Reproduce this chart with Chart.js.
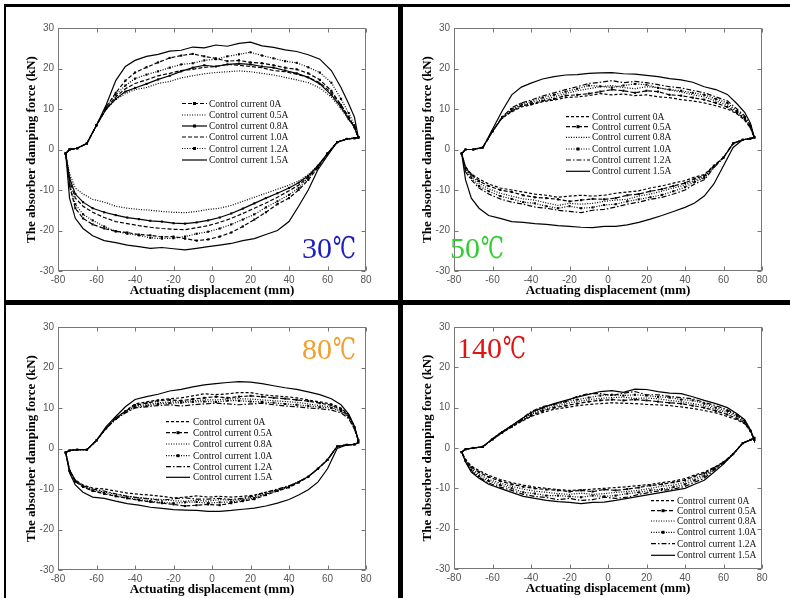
<!DOCTYPE html>
<html><head><meta charset="utf-8">
<script src="https://cdn.jsdelivr.net/npm/chart.js@4.4.1/dist/chart.umd.min.js"></script>
<style>
html,body{margin:0;padding:0;background:#fff;}
#wrap{position:relative;width:790px;height:598px;overflow:hidden;background:#fff;}
canvas{position:absolute;}
.bar{position:absolute;background:#000;}
</style></head><body>
<div id="wrap">
<canvas id="c1" width="400" height="300" style="left:0;top:0"></canvas>
<canvas id="c2" width="390" height="300" style="left:400px;top:0"></canvas>
<canvas id="c3" width="400" height="298" style="left:0;top:300px"></canvas>
<canvas id="c4" width="390" height="298" style="left:400px;top:300px"></canvas>
<div class="bar" style="left:4px;top:4px;width:786px;height:3px"></div>
<div class="bar" style="left:4px;top:4px;width:2px;height:594px"></div>
<div class="bar" style="left:398px;top:4px;width:5px;height:594px"></div>
<div class="bar" style="left:4px;top:300px;width:786px;height:5px"></div>
</div>
<script>
// x positions of the upper branch (left to right) and lower branch (right to left), mm
const UX = [-76,-74,-70,-65,-60,-55,-50,-45,-40,-34,-28,-22,-16,-10,-4,2,8,14,20,26,32,38,44,50,56,62,67,71,74,76];
const LX = [76,74,70,65,60,55,50,45,40,34,28,22,16,10,4,-2,-8,-14,-20,-26,-32,-38,-44,-50,-56,-62,-67,-71,-74,-76];
const LEGEND = ['Control current 0A','Control current 0.5A','Control current 0.8A','Control current 1.0A','Control current 1.2A','Control current 1.5A'];
const X_TICKS = [-80,-60,-40,-20,0,20,40,60,80];
const Y_TICKS = [-30,-20,-10,0,10,20,30];

// ---- 30 C ----
const up30_00 = [-1,0,0.3,1.5,6,10.5,14,17,19,20.3,21.5,22.6,23.2,23.6,23,22.5,21.8,22,21.5,21.3,20.8,20.2,19.8,18.8,17.2,14.5,11,8,5.5,3];
const up30_05 = [-1,0,0.3,1.5,6,10,12.3,13.8,14.8,15.3,16.3,16.8,17.7,18.2,18.7,19,19.2,19.4,19.2,18.8,18.4,17.8,17.2,16.5,15.2,13,10,7.5,5.5,3];
const up30_08 = [-1,0,0.3,1.5,6,10,12.5,14.3,15.2,16.2,17.3,18.2,19.3,20.2,20.8,20.5,21,21.2,21,20.5,20.2,19.5,18.8,17.8,16.2,13.5,10.5,7.5,5.5,3];
const up30_10 = [-1,0,0.3,1.5,6,10,13,15,16.3,17.2,18.2,18.8,19.5,19.8,20.3,20.5,21,20.8,20.5,20.2,19.5,19.2,18.6,17.8,16.5,14,11,8,5.5,3];
const up30_12 = [-1,0,0.3,1.5,6,10.3,13.5,15.8,17.5,18.5,19.3,20.2,21,21.3,22,22.3,23,23.5,24,23.2,22.5,21.8,21.4,20.3,19,16.5,12.5,9,6,3];
const up30_15 = [-1,0,0.3,1.5,6,11,17,20.5,22,23,23.5,24.3,24.5,25.3,25.1,25.8,25.5,26.2,26.5,25.6,25.2,24.6,24.2,23.4,22.3,19.5,15.3,11.3,8,3];
const lo30_00 = [3,2.8,2.6,1.8,-1,-4.5,-7.5,-10,-12,-13.5,-15.5,-17.3,-19,-20.5,-21.5,-22.2,-22.5,-22,-21.5,-21.6,-21.2,-21,-20.5,-20.2,-19.5,-18.5,-17,-14.5,-9,-1];
const lo30_05 = [3,2.8,2.6,1.8,-1,-4,-6.2,-7.8,-8.8,-9.8,-10.8,-11.8,-12.8,-13.8,-14.5,-14.8,-15.3,-15.6,-15.5,-15.3,-15,-14.8,-14.5,-14,-13,-12.3,-11,-9.5,-6,-1];
const lo30_08 = [3,2.8,2.6,1.8,-1,-4,-6.5,-8.2,-9.5,-10.8,-12,-13.3,-14.6,-15.8,-16.8,-17.5,-18,-18.3,-18.2,-17.8,-17.6,-17.2,-16.8,-16.2,-15.5,-14.5,-13,-11,-7,-1];
const lo30_10 = [3,2.8,2.6,1.8,-1,-4.2,-6.8,-8.8,-10.2,-11.8,-13.2,-14.5,-15.8,-17,-18,-18.8,-19.3,-19.8,-19.7,-19.5,-19.2,-18.8,-18.3,-17.8,-16.8,-15.5,-14,-12,-7.5,-1];
const lo30_12 = [3,2.8,2.6,1.8,-1,-4.3,-7,-9.5,-11.2,-12.8,-14.3,-16,-17.3,-18.5,-19.5,-20.3,-20.8,-21.5,-21.9,-22,-21.8,-21.2,-20.8,-20.2,-19,-17.5,-16,-13.5,-8.5,-1];
const lo30_15 = [3,2.8,2.6,1.8,-1.5,-5,-10,-14,-17.8,-20,-21,-22,-22.5,-23.2,-23.6,-24,-24.4,-24.8,-24.5,-24.2,-24.4,-24,-23.6,-23,-22.5,-21.3,-19.5,-17,-12,-1];

// ---- 50 C ----
const up50_00 = [-1,0,0,0.5,4.5,7.8,9.3,10.5,11,11.8,12.2,12.8,13,13.3,13.8,13.5,13.7,13.3,13.5,13,12.8,12.3,12,11.5,10.8,10,8.8,7.2,5.3,3];
const up50_05 = [-1,0,0,0.5,4.5,7.8,9.5,10.8,11.2,12,12.5,13.3,13.5,13.8,14.3,14.8,14.5,14,14.5,14.3,13.5,13.3,12.8,12.3,11.5,10.5,9,7.5,5.5,3];
const up50_08 = [-1,0,0,0.5,4.5,7.8,9.8,11,11.5,12.3,13,13.8,14.5,15,15.5,15.8,15.3,15,15.5,15.3,14.7,14.2,13.5,13,12,11,9.3,7.7,5.5,3];
const up50_10 = [-1,0,0,0.5,4.5,8,10,11.3,11.8,12.8,13.5,14.3,15,15.8,15.6,15.3,15.8,16.2,16,15.2,14.8,14.5,14,13.5,12.5,11.5,9.5,8,5.8,3];
const up50_12 = [-1,0,0,0.5,4.5,8,10.3,11.5,12.2,13.2,14,14.8,15.5,16.3,16.6,17,16.5,16.8,16.5,16,15.5,15.2,14.6,14,13,12,10,8.3,6,3];
const up50_15 = [-1,0,0,0.5,5,9.5,13.5,15.4,16.4,17.4,18,18.4,18.5,18.8,18.9,19,18.7,18.6,18.3,18,17.5,17.2,16.6,15.5,14.8,13.6,11.3,9.2,6.5,3];
const lo50_00 = [3,2.7,2.4,1.5,-2,-4,-6.2,-6.8,-7.7,-8.3,-9,-9.5,-10.2,-10.5,-10.8,-11.3,-11.5,-11.3,-11.5,-11.8,-11.3,-11,-10.5,-10,-9.5,-8.5,-7.3,-6,-4.3,-1];
const lo50_05 = [3,2.7,2.4,1.5,-2,-4,-6.5,-7.2,-8.3,-9,-9.8,-10.3,-11,-11.3,-12,-12.3,-12.2,-12.5,-12.8,-12.3,-12,-11.8,-11.3,-10.5,-10,-9,-7.8,-6.2,-4.5,-1];
const lo50_08 = [3,2.7,2.4,1.5,-2,-4.2,-6.8,-7.6,-8.8,-9.5,-10.3,-11,-11.5,-12.3,-12.5,-12.8,-13.3,-13.5,-13.3,-13.8,-13.2,-12.5,-12.2,-11.5,-10.8,-9.7,-8.3,-6.5,-4.7,-1];
const lo50_10 = [3,2.7,2.4,1.5,-2,-4.3,-7,-8,-9.3,-10.3,-11.2,-11.8,-12.3,-12.8,-13.5,-13.7,-14.3,-14.5,-14,-14.5,-14,-13.3,-13,-12.2,-11.5,-10.3,-9,-7,-5,-1];
const lo50_12 = [3,2.7,2.4,1.5,-2,-4.5,-7.5,-8.5,-10,-11,-11.8,-12.3,-13,-13.5,-14.2,-14.8,-15,-15.6,-15.3,-15,-14.5,-14.2,-13.5,-13,-12.2,-11,-9.5,-7.5,-5.5,-1];
const lo50_15 = [3,2.7,2.4,0.5,-4,-8.5,-11.5,-13.2,-14.3,-15.3,-16.3,-17.2,-18,-18.6,-19,-19,-19.3,-19.2,-19,-18.8,-18.5,-18.3,-18,-17.8,-17,-16.3,-14.5,-12,-7.5,-1];

// ---- 80 C ----
const up80_00 = [-1,-0.5,-0.3,-0.3,2,5,7.5,9.3,11,11.5,12,12.3,12.5,13,13.5,13.3,13.5,13.8,13.8,13.3,13,12.8,12.5,12,11.5,11,10,8.3,5.5,2];
const up80_05 = [-1,-0.5,-0.3,-0.3,2,5,7.5,9.2,10.7,11.2,11.8,12,11.8,12.2,12.5,12.8,12.5,12.8,13,12.8,12.5,12.3,12,11.7,11.2,10.7,9.7,8.1,5.3,2];
const up80_08 = [-1,-0.5,-0.3,-0.3,2,5,7.3,9,10.5,10.8,11.3,11.5,11.5,11.8,12,12,12.2,12.3,12.2,12,11.8,11.6,11.4,11,10.6,10.3,9.4,7.9,5.2,2];
const up80_10 = [-1,-0.5,-0.3,-0.3,2,5,7.3,9,10.2,10.5,11,11.2,11.3,11.5,11.6,11.5,11.8,11.8,11.6,11.5,11.3,11,10.8,10.5,10.2,10,9.2,7.7,5,2];
const up80_12 = [-1,-0.5,-0.3,-0.3,2,5,7.2,8.8,10,10.3,10.6,10.8,10.5,10.8,11,11.2,11,10.8,11,11.2,10.8,10.5,10.3,10,9.8,9.5,8.8,7.4,4.8,2];
const up80_15 = [-1,-0.5,-0.3,-0.3,2,5.4,7.9,10.3,12.1,12.8,13.4,14.2,14.6,15.2,15.7,16,16.3,16.5,16.4,16,15.5,15,14.6,14,13.3,12.3,10.8,8.5,5.5,2];
const lo80_00 = [1.5,1,0.9,0.5,-2.8,-5,-6.9,-8.2,-9.3,-10.2,-10.8,-11.5,-11.8,-12,-11.8,-12,-11.7,-12,-12.2,-11.8,-11.5,-11.3,-11,-10.5,-10,-9.8,-9,-7.8,-5.3,-1];
const lo80_05 = [1.5,1,0.9,0.5,-2.8,-5,-7,-8.4,-9.6,-10.5,-11.5,-12.5,-13,-13.5,-14,-13.8,-14,-14.2,-13.8,-13.5,-13.2,-12.8,-12.3,-11.8,-11.2,-10.5,-9.5,-8.2,-5.5,-1];
const lo80_08 = [1.5,1,0.9,0.5,-2.8,-5,-7,-8.3,-9.5,-10.3,-11.2,-12,-12.5,-12.8,-12.6,-13,-12.8,-13,-12.9,-12.6,-12.4,-12.1,-11.8,-11.3,-10.7,-10.2,-9.3,-8,-5.4,-1];
const lo80_10 = [1.5,1,0.9,0.5,-2.8,-5,-7,-8.3,-9.4,-10.4,-11.3,-12.2,-12.8,-13.2,-13.3,-13.5,-13.2,-13.3,-13.5,-13.3,-13,-12.6,-12.2,-11.7,-11,-10.4,-9.4,-8.1,-5.5,-1];
const lo80_12 = [1.5,1,0.9,0.5,-2.8,-5,-6.9,-8.2,-9.2,-10,-10.8,-11.7,-12.3,-12.6,-12.3,-12.5,-12.5,-12.2,-12.4,-12.8,-12.5,-12.2,-11.8,-11.2,-10.5,-10,-9.2,-7.9,-5.3,-1];
const lo80_15 = [1.5,1,0.9,0,-5,-8.3,-10.2,-11.5,-12.6,-13.5,-14.2,-14.7,-15,-15.3,-15.5,-15.5,-15.3,-15.2,-15.1,-14.8,-14.5,-14,-13.6,-13,-12.3,-12,-10.8,-9,-6,-1];

// ---- 140 C ----
const up140_00 = [-1,-0.3,0,0.3,2.1,3.8,5.2,6.6,7.8,8.8,9.6,10,10.5,10.8,11,11.2,11.1,11,10.8,10.7,10.5,10.2,9.8,9.3,8.7,7.8,7,6,4.2,2];
const up140_05 = [-1,-0.3,0,0.3,2.1,3.8,5.3,6.8,8,9.2,10,10.5,11,11.5,11.8,12,11.8,12,11.8,11.5,11.2,11,10.5,10,9.2,8.3,7.3,6.2,4.2,2];
const up140_08 = [-1,-0.3,0,0.3,2.2,3.9,5.4,7,8.3,9.5,10.3,11,11.5,12,12.3,12.5,12.6,12.3,12.4,12.2,11.8,11.5,11,10.5,9.6,8.8,7.7,6.4,4.3,2];
const up140_10 = [-1,-0.3,0,0.3,2.2,3.9,5.4,7,8.5,9.8,10.8,11.5,12,12.5,13,13.2,13,13.2,13,12.7,12.5,12,11.8,11,10,9.2,8,6.6,4.3,2];
const up140_12 = [-1,-0.3,0,0.3,2.3,4,5.5,7.2,9,10.3,10.8,11.5,12.8,13.5,13.5,13,13.6,14,13.2,13.2,12.8,12.5,12.2,11.3,10.5,9.5,8.2,6.8,4.5,2];
const up140_15 = [-1,-0.3,0,0.3,2.3,4,5.6,7.2,8.8,10,11,11.8,12.6,13.3,14,14.2,13.8,14.6,14.5,14,13.6,13.5,12.7,11.8,11,10,8.5,7,4.5,2];
const lo140_00 = [2.5,2,1.2,-1.5,-3.5,-4.8,-6,-6.7,-7.6,-8.2,-8.6,-9,-9.3,-9.6,-9.8,-10,-10.2,-10.4,-10.5,-10.3,-10,-9.7,-9.2,-8.6,-7.8,-6.8,-5.6,-4.5,-2.9,-1];
const lo140_05 = [2.5,2,1.2,-1.5,-3.5,-5,-6.3,-7,-8,-8.5,-9,-9.3,-9.8,-10.2,-10.5,-10.3,-10.8,-10.5,-10.8,-10.5,-10.3,-10,-9.6,-9,-8.2,-7.2,-6,-4.8,-3,-1];
const lo140_08 = [2.5,2,1.2,-1.5,-3.6,-5.1,-6.7,-7.5,-8.5,-9.2,-9.5,-10,-10.5,-10.8,-11,-11.3,-11.5,-11.2,-11.5,-11.3,-11,-10.7,-10.2,-9.5,-8.7,-7.8,-6.5,-5.2,-3.1,-1];
const lo140_10 = [2.5,2,1.2,-1.5,-3.7,-5.3,-7,-8,-9,-9.7,-10.2,-10.5,-11,-11.3,-11.8,-12,-11.8,-12.2,-12,-11.8,-11.8,-11.3,-11,-10,-9.2,-8.2,-7,-5.5,-3.2,-1];
const lo140_12 = [2.5,2,1.2,-1.5,-3.8,-5.5,-7.5,-8.5,-9.5,-10.2,-10.5,-11,-11.5,-12.2,-12.5,-12.2,-12.8,-13,-12.5,-12.8,-12.3,-12,-11.5,-10.5,-9.7,-8.7,-7.3,-5.8,-3.3,-1];
const lo140_15 = [2.5,2,1.2,-1.5,-4,-6,-8,-9,-10,-10.5,-11,-11.5,-12,-12.5,-13,-13.4,-13.5,-13.8,-13.5,-13.3,-13,-12.5,-12,-11,-10,-9,-7.5,-6,-3.5,-1];

// line styles (order: 0A, 0.5A, 0.8A, 1.0A, 1.2A, 1.5A)
const STYLE_A = [{d:[4,2],m:true},{d:[1,1.5],m:false},{d:[],m:true},{d:[4,2],m:false},{d:[1,1.5],m:true},{d:[],m:false}];
const STYLE_B = [{d:[3,2],m:false},{d:[4,2],m:true},{d:[1,1.5],m:false},{d:[1,1.5],m:true},{d:[5,2,1.5,2],m:false},{d:[],m:false}];

function loop(up, lo) {
  return UX.map((x, k) => ({x: x, y: up[k]})).concat(LX.map((x, k) => ({x: x, y: lo[k]})));
}

const SERIF = '"Liberation Serif", "Times New Roman", "DejaVu Serif", serif';
const SANS = '"Liberation Sans Narrow", "Liberation Sans", Arial, sans-serif';

const decor = {
  id: 'decor',
  afterDraw(chart, args, o) {
    const ctx = chart.ctx, a = chart.chartArea, sx = chart.scales.x, sy = chart.scales.y;
    ctx.save();
    ctx.strokeStyle = '#777'; ctx.lineWidth = 1; ctx.setLineDash([]);
    const L = Math.round(a.left) + 0.5, R = Math.round(a.right) - 0.5, T = Math.round(a.top) + 0.5, B = Math.round(a.bottom) - 0.5;
    ctx.strokeRect(L, T, R - L, B - T);
    ctx.beginPath();
    X_TICKS.forEach(v => { const p = Math.round(sx.getPixelForValue(v)) + 0.5; ctx.moveTo(p, B); ctx.lineTo(p, B - 4); ctx.moveTo(p, T); ctx.lineTo(p, T + 4); });
    Y_TICKS.forEach(v => { const p = Math.round(sy.getPixelForValue(v)) + 0.5; ctx.moveTo(L, p); ctx.lineTo(L + 4, p); ctx.moveTo(R, p); ctx.lineTo(R - 4, p); });
    ctx.stroke();
    // legend
    ctx.font = '9.5px ' + SERIF; ctx.fillStyle = '#111'; ctx.textBaseline = 'middle';
    o.styles.forEach((s, i) => {
      const y = o.rows[i];
      ctx.strokeStyle = '#000'; ctx.lineWidth = 1.2; ctx.setLineDash(s.d);
      ctx.beginPath(); ctx.moveTo(o.lx0, y); ctx.lineTo(o.lx1, y); ctx.stroke();
      if (s.m) { ctx.fillStyle = '#000'; ctx.fillRect((o.lx0 + o.lx1) / 2 - 1.5, y - 1.5, 3, 3); }
      ctx.fillStyle = '#111';
      ctx.fillText(LEGEND[i], o.tx, y + 0.5);
    });
    // temperature label: digits, then the degree sign narrowed to match the reference
    ctx.setLineDash([]);
    ctx.font = '30px ' + SERIF; ctx.fillStyle = o.color; ctx.textBaseline = 'alphabetic';
    ctx.fillText(o.temp, o.tempX, o.tempY);
    const w = ctx.measureText(o.temp).width;
    const cw = ctx.measureText('\u2103').width;
    ctx.save();
    ctx.translate(o.tempX + w + 1, o.tempY);
    ctx.scale(23 / cw, 1);
    ctx.fillText('\u2103', 0, 0);
    ctx.restore();
    ctx.restore();
  }
};

function makeChart(id, ups, los, styles, pad, deco) {
  const datasets = ups.map((u, i) => ({
    label: LEGEND[i],
    data: loop(u, los[i]),
    showLine: true, fill: false, tension: 0,
    borderColor: '#000', borderWidth: 1.2, borderDash: styles[i].d,
    pointRadius: styles[i].m ? 1.5 : 0, pointStyle: 'rect',
    pointBackgroundColor: '#000', pointBorderWidth: 0, pointHoverRadius: 0
  }));
  new Chart(document.getElementById(id), {
    type: 'scatter',
    data: {datasets: datasets},
    plugins: [decor],
    options: {
      animation: false, responsive: false, devicePixelRatio: 1,
      layout: {padding: pad},
      plugins: {legend: {display: false}, tooltip: {enabled: false}, decor: deco},
      scales: {
        x: {
          type: 'linear', min: -80, max: 80,
          afterBuildTicks: s => { s.ticks = X_TICKS.map(v => ({value: v})); },
          ticks: {autoSkip: false, maxRotation: 0, padding: 3, color: '#555', font: {family: SANS, size: 10}},
          grid: {display: false, drawTicks: false}, border: {display: false},
          title: {display: true, text: 'Actuating displacement (mm)', color: '#000', padding: 0, font: {family: SERIF, size: 13, weight: 'bold'}},
          afterFit: s => { s.height = 27; }
        },
        y: {
          type: 'linear', min: -30, max: 30,
          afterBuildTicks: s => { s.ticks = Y_TICKS.map(v => ({value: v})); },
          ticks: {autoSkip: false, padding: 4, color: '#555', font: {family: SANS, size: 10}},
          grid: {display: false, drawTicks: false}, border: {display: false},
          title: {display: true, text: 'The absorber damping force (kN)', color: '#000', padding: 0, font: {family: SERIF, size: 13, weight: 'bold'}},
          afterFit: s => { s.width = 34; }
        }
      }
    }
  });
}

makeChart('c1',
  [up30_00, up30_05, up30_08, up30_10, up30_12, up30_15],
  [lo30_00, lo30_05, lo30_08, lo30_10, lo30_12, lo30_15],
  STYLE_A, {left: 24, right: 34, top: 28, bottom: 2},
  {styles: STYLE_A, lx0: 182, lx1: 207, tx: 209, rows: [103.5, 115, 126, 137, 148.5, 160], temp: '30', color: '#1c1cc0', tempX: 302, tempY: 258});
makeChart('c2',
  [up50_00, up50_05, up50_08, up50_10, up50_12, up50_15],
  [lo50_00, lo50_05, lo50_08, lo50_10, lo50_12, lo50_15],
  STYLE_B, {left: 20, right: 28, top: 28, bottom: 2},
  {styles: STYLE_B, lx0: 166, lx1: 190, tx: 192, rows: [116.7, 126.7, 137.3, 149, 160, 171.3], temp: '50', color: '#33cc33', tempX: 50, tempY: 258});
makeChart('c3',
  [up80_00, up80_05, up80_08, up80_10, up80_12, up80_15],
  [lo80_00, lo80_05, lo80_08, lo80_10, lo80_12, lo80_15],
  STYLE_B, {left: 24, right: 34, top: 27, bottom: 1},
  {styles: STYLE_B, lx0: 166, lx1: 190, tx: 193, rows: [121.7, 132.7, 144, 155.7, 166.7, 177.3], temp: '80', color: '#f0a030', tempX: 302, tempY: 59});
makeChart('c4',
  [up140_00, up140_05, up140_08, up140_10, up140_12, up140_15],
  [lo140_00, lo140_05, lo140_08, lo140_10, lo140_12, lo140_15],
  STYLE_B, {left: 20, right: 28, top: 27, bottom: 2},
  {styles: STYLE_B, lx0: 251, lx1: 275, tx: 277, rows: [200.7, 210.7, 221, 232.3, 243.7, 255.3], temp: '140', color: '#dd1515', tempX: 57, tempY: 58});
</script>
</body></html>
